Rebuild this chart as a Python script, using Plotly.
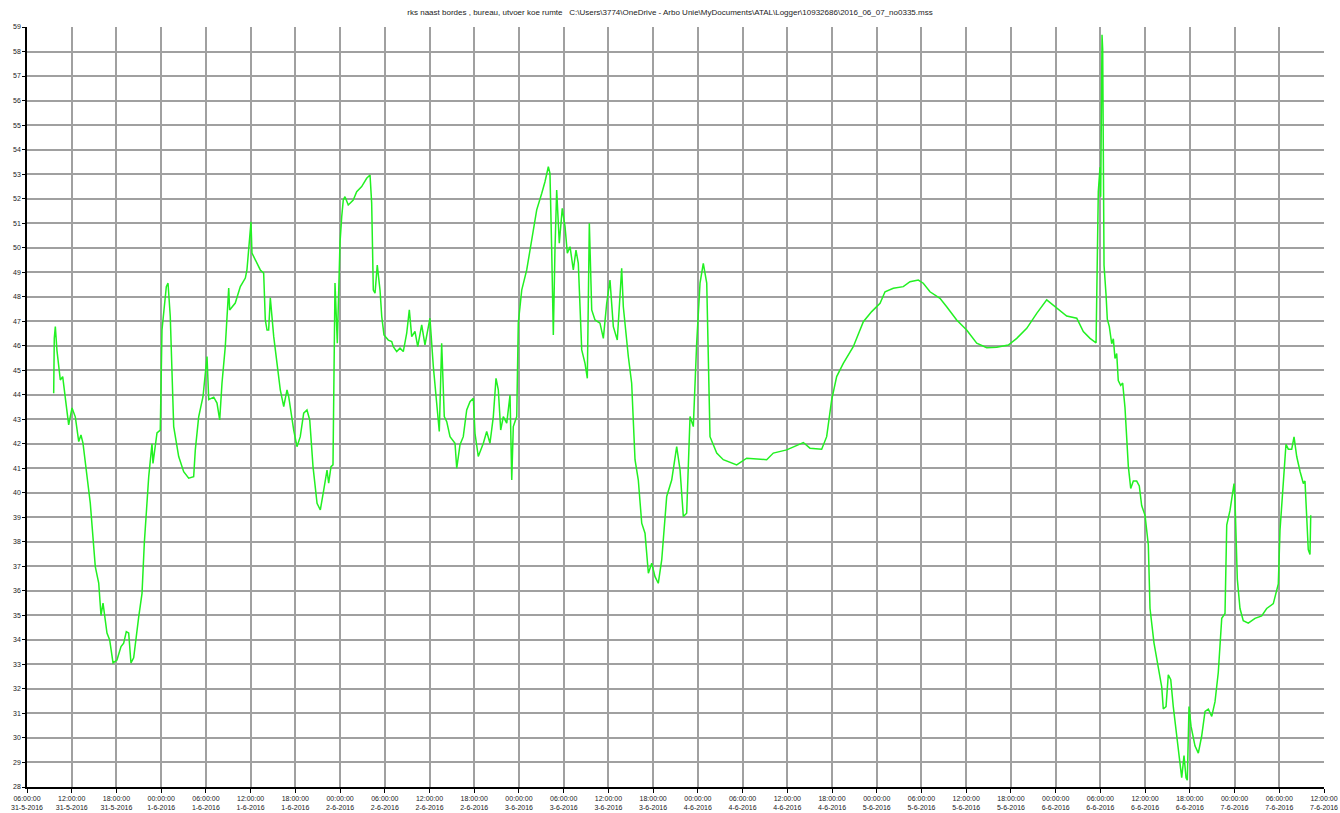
import pandas as pd
import plotly.graph_objects as go

title_text = ("rks naast bordes , bureau, utvoer koe rumte   "
              "C:\\Users\\3774\\OneDrive - Arbo Unie\\MyDocuments\\ATAL\\Logger\\10932686\\2016_06_07_no0335.mss")

start_time = "2016-05-31 06:00:00"

# hours after start_time
hours = [
    3.58, 3.66, 3.80, 4.02, 4.47, 4.79, 5.14, 5.59, 6.04, 6.48, 6.94, 7.24, 7.51, 8.05, 8.49,
    9.16, 9.62, 9.93, 10.20, 10.73, 11.09, 11.54, 12.07, 12.61, 12.97, 13.32, 13.64, 13.95,
    14.31, 14.99, 15.43, 15.74, 16.33, 16.77, 16.90, 17.44, 17.88, 18.11, 18.69, 18.92, 19.22,
    19.68, 20.35, 21.02, 21.69, 22.36, 22.58, 23.03, 23.61, 24.15, 24.38, 25.05, 25.49, 25.85,
    26.16, 26.60, 27.06, 27.19, 27.94, 28.62, 29.29, 29.51, 29.74, 30.05, 30.18, 30.86, 31.30,
    31.75, 31.97, 32.20, 32.42, 32.64, 33.10, 33.54, 33.98, 34.44, 34.88, 35.11, 35.78, 36.22,
    36.66, 37.12, 37.56, 37.93, 38.37, 38.91, 39.35, 39.80, 40.25, 40.47, 40.78, 41.05, 41.32,
    41.63, 41.99, 42.22, 42.43, 42.66, 43.10, 43.77, 44.23, 44.90, 45.57, 46.02, 46.24, 46.46,
    46.69, 46.99, 47.36, 47.59, 47.89, 48.47, 48.93, 49.14, 49.60, 50.04, 50.48, 50.94, 51.29,
    51.61, 52.05, 52.42, 52.95, 53.39, 54.06, 54.51, 54.96, 55.31, 55.63, 55.98, 56.31, 56.75,
    57.42, 57.65, 58.09, 58.53, 58.99, 59.43, 59.88, 60.10, 60.54, 61.22, 61.67, 62.11, 62.56,
    62.92, 63.23, 63.55, 63.90, 64.36, 64.80, 65.03, 65.24, 65.70, 65.91, 66.37, 67.04, 67.48,
    67.93, 68.38, 69.05, 69.49, 69.94, 70.16, 70.39, 70.61, 70.83, 71.06, 71.41, 71.81, 72.18,
    72.49, 72.85, 73.29, 73.65, 73.96, 74.42, 74.86, 75.17, 75.44, 75.76, 76.20, 76.87, 77.32,
    77.77, 78.21, 78.66, 79.19, 79.78, 80.00, 80.67, 81.12, 81.57, 82.01, 82.47, 82.91, 83.36,
    83.81, 84.25, 84.69, 85.15, 85.82, 86.49, 87.16, 87.61, 88.05, 88.50, 88.95, 89.39, 89.84,
    90.29, 90.73, 91.19, 91.63, 92.53, 93.41, 95.21, 96.55, 99.23, 100.12, 101.92, 104.15,
    105.04, 106.61, 107.28, 107.95, 108.62, 109.51, 110.85, 112.20, 113.32, 114.44, 115.11,
    116.22, 117.56, 118.46, 119.57, 120.24, 121.14, 122.48, 123.38, 124.72, 126.06, 127.41,
    128.75, 130.09, 131.65, 132.78, 134.12, 135.46, 136.80, 138.14, 139.48, 140.83, 141.71,
    142.61, 143.42, 143.72, 143.95, 144.04, 144.22, 144.31, 144.39, 144.49, 144.76, 144.93,
    145.20, 145.52, 145.74, 145.96, 146.19, 146.40, 146.72, 146.99, 147.30, 147.53, 147.75,
    148.07, 148.42, 148.87, 149.22, 149.54, 149.99, 150.43, 150.66, 151.19, 151.77, 152.23,
    152.44, 152.81, 153.11, 153.44, 153.78, 154.15, 154.59, 154.91, 155.22, 155.49, 155.66,
    155.89, 156.16, 156.69, 157.14, 157.59, 158.04, 158.48, 158.94, 159.38, 159.82, 160.28,
    160.72, 160.95, 161.39, 161.93, 162.06, 162.37, 162.73, 163.17, 163.84, 164.74, 165.64,
    166.31, 167.20, 167.87, 168.10, 168.54, 168.90, 169.21, 169.67, 169.98, 170.34, 170.78,
    171.23, 171.45, 171.68, 171.89, 172.12, 172.22,
]

values = [
    44.06, 46.30, 46.78, 45.80, 44.60, 44.74, 43.87, 42.77, 43.46, 43.10, 42.09, 42.36, 42.03,
    40.66, 39.58, 36.99, 36.32, 35.00, 35.50, 34.28, 34.00, 33.06, 33.18, 33.73, 33.87, 34.34,
    34.28, 33.06, 33.27, 34.95, 35.90, 37.96, 40.66, 42.00, 41.20, 42.44, 42.56, 46.64, 48.41,
    48.55, 47.19, 42.70, 41.48, 40.86, 40.60, 40.66, 41.75, 43.10, 43.92, 45.56, 43.80, 43.90,
    43.66, 42.97, 44.48, 45.96, 48.35, 47.46, 47.74, 48.41, 48.76, 49.10, 49.90, 51.05, 49.78,
    49.37, 49.09, 48.96, 47.05, 46.64, 46.64, 47.95, 46.37, 45.28, 44.20, 43.52, 44.20, 43.92,
    42.56, 41.88, 42.29, 43.25, 43.38, 42.97, 41.07, 39.57, 39.30, 40.10, 40.93, 40.39, 41.07,
    41.14, 48.56, 46.10, 50.19, 51.26, 51.94, 52.08, 51.74, 51.94, 52.28, 52.49, 52.83, 52.96,
    51.82, 48.27, 48.14, 49.29, 48.27, 47.19, 46.44, 46.23, 46.17, 45.96, 45.76, 45.90, 45.76,
    46.51, 47.46, 46.37, 46.58, 45.96, 46.85, 46.03, 47.12, 45.15, 43.79, 42.50, 46.10, 43.11,
    42.90, 42.29, 42.02, 41.00, 41.96, 42.29, 43.38, 43.72, 43.86, 42.43, 41.48, 42.02, 42.50,
    42.02, 43.11, 44.67, 44.20, 42.56, 43.11, 42.84, 43.99, 40.52, 42.70, 43.11, 46.92, 48.27,
    49.09, 49.90, 50.72, 51.54, 52.21, 52.69, 53.30, 53.03, 49.90, 46.44, 49.90, 52.35, 50.18,
    51.60, 50.86, 49.77, 50.04, 49.09, 49.90, 49.36, 45.83, 45.28, 44.67, 50.99, 47.46, 47.05,
    46.92, 46.30, 47.73, 48.68, 46.78, 46.23, 49.16, 47.59, 45.56, 44.47, 41.35, 40.52, 38.76,
    38.35, 36.72, 37.13, 36.58, 36.31, 37.26, 39.85, 40.52, 41.88, 40.93, 39.03, 39.17, 43.11,
    42.70, 46.10, 48.55, 49.36, 48.55, 42.29, 41.62, 41.35, 41.14, 41.41, 41.35, 41.62, 41.75,
    42.05, 41.82, 41.78, 42.29, 43.79, 44.74, 45.28, 45.96, 46.98, 47.39, 47.73, 48.20, 48.34,
    48.41, 48.61, 48.68, 48.55, 48.20, 47.93, 47.59, 47.05, 46.64, 46.10, 45.92, 45.94, 46.03,
    46.30, 46.71, 47.32, 47.87, 47.53, 47.21, 47.12, 46.58, 46.30, 46.12, 52.28, 53.28, 52.08,
    58.68, 58.08, 53.28, 49.28, 48.08, 47.08, 46.78, 46.08, 46.28, 45.48, 45.68, 44.58, 44.38,
    44.48, 43.48, 42.28, 41.08, 40.18, 40.48, 40.48, 40.28, 39.48, 39.08, 37.88, 35.28, 33.88,
    32.88, 32.08, 31.18, 31.28, 32.58, 32.38, 31.28, 30.28, 29.08, 28.38, 29.28, 28.38, 28.28,
    31.28, 30.48, 29.68, 29.38, 30.08, 31.08, 31.18, 30.88, 31.48, 32.68, 34.88, 35.08, 38.68,
    39.28, 40.38, 39.68, 36.48, 35.28, 34.78, 34.68, 34.88, 34.98, 35.28, 35.48, 36.28, 38.48,
    40.68, 41.98, 41.78, 41.78, 42.28, 41.48, 40.88, 40.38, 40.48, 39.08, 37.68, 37.48, 39.08,
]

x_range = ["2016-05-31 06:00:00", "2016-06-07 12:00:00"]
y_range = [28, 59]

times = pd.Timestamp(start_time) + pd.to_timedelta(hours, unit="h")

fig = go.Figure()
fig.add_trace(go.Scatter(
    x=times, y=values, mode="lines",
    line=dict(color="#22f022", width=1.5),
    showlegend=False,
))

grid_col = "#a0a0a0"
tick_font = dict(family="Liberation Sans, Arial, sans-serif", size=7, color="#1a1a1a")

fig.update_layout(
    width=1340, height=813,
    margin=dict(l=27, r=16, t=27, b=26),
    paper_bgcolor="white", plot_bgcolor="white",
    title=dict(text=title_text, x=0.5, xanchor="center", y=0.985, yanchor="middle",
               font=dict(family="Liberation Sans, Arial, sans-serif", size=8, color="#222222")),
    xaxis=dict(
        range=x_range, type="date", dtick=6 * 3600 * 1000, tick0="2016-05-31 06:00:00",
        tickformat="%H:%M:%S<br>%-d-%-m-%Y", tickfont=tick_font,
        showgrid=True, gridcolor=grid_col, gridwidth=1.5,
        showline=True, linecolor="black", linewidth=1.5,
        ticks="outside", ticklen=4, tickcolor="black", tickwidth=1,
        zeroline=False, automargin=False,
    ),
    yaxis=dict(
        range=y_range, dtick=1, tick0=28, tickfont=tick_font,
        showgrid=True, gridcolor=grid_col, gridwidth=1.5,
        showline=True, linecolor="black", linewidth=1.5,
        ticks="outside", ticklen=3, tickcolor="black", tickwidth=1,
        zeroline=False, automargin=False,
    ),
)

fig.write_html("out.html", config={"displayModeBar": False},
               post_script="document.body.style.margin='0';document.body.style.overflow='hidden';")
